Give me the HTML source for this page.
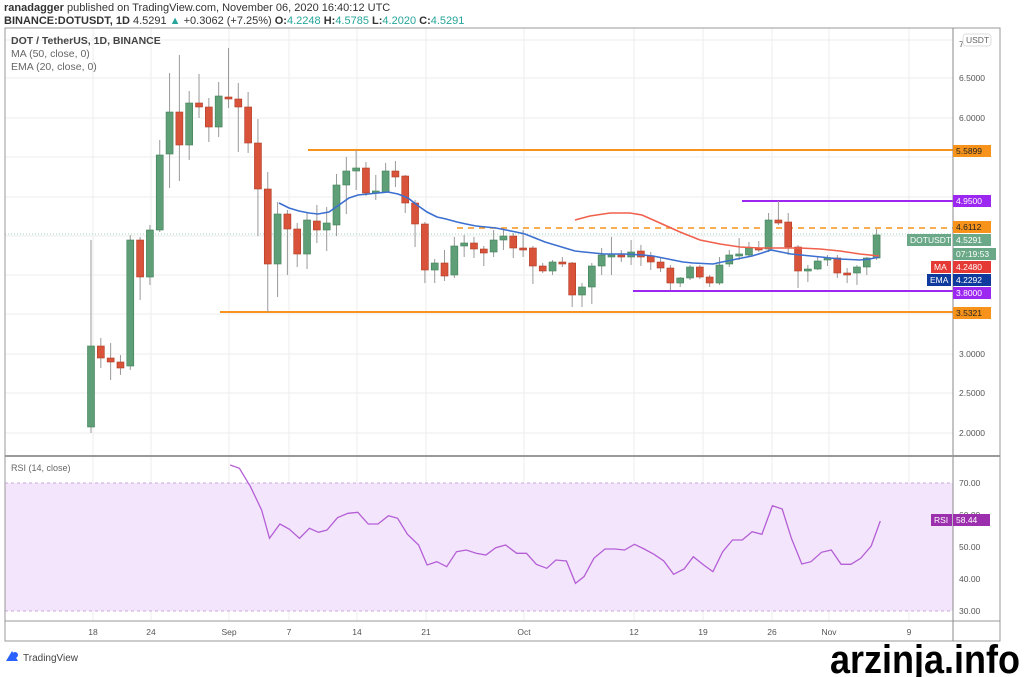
<!DOCTYPE html>
<html><head><meta charset="utf-8"><style>
html,body{margin:0;padding:0;background:#fff;width:1024px;height:677px;overflow:hidden}
svg{position:absolute;left:0;top:0}
text{font-family:"Liberation Sans",sans-serif}
</style></head><body>
<svg id="s" width="1024" height="677" viewBox="0 0 1024 677" xmlns="http://www.w3.org/2000/svg">
<rect x="0" y="0" width="1024" height="677" fill="#fff"/>
<text x="4" y="11" font-size="11" fill="#333"><tspan font-weight="bold">ranadagger</tspan> published on TradingView.com, November 06, 2020 16:40:12 UTC</text>
<text x="4" y="24" font-size="11" fill="#333"><tspan font-weight="bold">BINANCE:DOTUSDT, 1D</tspan> 4.5291 <tspan fill="#26a69a">▲</tspan> +0.3062 (+7.25%) <tspan font-weight="bold">O:</tspan><tspan fill="#26a69a">4.2248</tspan> <tspan font-weight="bold">H:</tspan><tspan fill="#26a69a">4.5785</tspan> <tspan font-weight="bold">L:</tspan><tspan fill="#26a69a">4.2020</tspan> <tspan font-weight="bold">C:</tspan><tspan fill="#26a69a">4.5291</tspan></text>
<g id="grid"></g>
<rect x="5" y="483" width="948" height="128" fill="#f3e5fb"/>
<line x1="5" y1="483" x2="953" y2="483" stroke="#c9a8d8" stroke-dasharray="3,3"/>
<line x1="5" y1="611" x2="953" y2="611" stroke="#c9a8d8" stroke-dasharray="3,3"/>
<g id="lines"></g>
<g id="candles"></g>
<g id="ind"></g>
<rect x="5" y="28" width="995" height="613" fill="none" stroke="#999" stroke-width="1"/>
<line x1="953" y1="28" x2="953" y2="641" stroke="#888"/>
<line x1="5" y1="456" x2="1000" y2="456" stroke="#999" stroke-width="2"/>
<line x1="5" y1="621" x2="1000" y2="621" stroke="#999"/>
<text x="11" y="44" font-size="10.5" fill="#444" font-weight="bold">DOT / TetherUS, 1D, BINANCE</text>
<text x="11" y="57" font-size="10.5" fill="#666">MA (50, close, 0)</text>
<text x="11" y="70" font-size="10.5" fill="#666">EMA (20, close, 0)</text>
<text x="11" y="471" font-size="9" fill="#666">RSI (14, close)</text>
<g id="axis" font-size="8.5" fill="#555"></g>
<g id="tags" font-size="8.5"></g>
<g transform="translate(6,651)"><path d="M0,10 L6,0 L12,10 Z" fill="#2962ff"/><circle cx="9" cy="4" r="3" fill="#2962ff"/></g>
<text x="23" y="661" font-size="10" fill="#444">TradingView</text>
<text transform="translate(1020,673) scale(0.9,1)" font-size="40" font-weight="bold" fill="#000" text-anchor="end" font-family="Liberation Sans Narrow, Liberation Sans, sans-serif">arzinja.info</text>
</svg>
<script>
var NS="http://www.w3.org/2000/svg";
function el(p,t,a,txt){var e=document.createElementNS(NS,t);for(var k in a)e.setAttribute(k,a[k]);if(txt!==undefined)e.textContent=txt;document.getElementById(p).appendChild(e);return e;}
[40,78,118,157,197,236,275,314,354,393,433].forEach(function(y){el("grid","line",{x1:5,y1:y,x2:953,y2:y,stroke:"#eee"});});
[515,547,579].forEach(function(y){el("grid","line",{x1:5,y1:y,x2:953,y2:y,stroke:"#e8e8e8"});});
var dx=[[93,"18"],[151,"24"],[229,"Sep"],[289,"7"],[357,"14"],[426,"21"],[524,"Oct"],[634,"12"],[703,"19"],[772,"26"],[829,"Nov"],[909,"9"]];
dx.forEach(function(d){el("grid","line",{x1:d[0],y1:28,x2:d[0],y2:621,stroke:"#eee"});el("axis","text",{x:d[0],y:635,"text-anchor":"middle"},d[1]);});
[[78,"6.5000"],[118,"6.0000"],[354,"3.0000"],[393,"2.5000"],[433,"2.0000"],[44,"7"]].forEach(function(a){el("axis","text",{x:959,y:a[0]+3},a[1]);});
[[483,"70.00"],[515,"60.00"],[547,"50.00"],[579,"40.00"],[611,"30.00"]].forEach(function(a){el("axis","text",{x:959,y:a[0]+3},a[1]);});
el("axis","rect",{x:963,y:34,width:28,height:12,rx:3,fill:"#fff",stroke:"#ddd"});
el("axis","text",{x:966,y:43,fill:"#666"},"USDT");
function hl(x1,x2,y,c,w,da){var a={x1:x1,y1:y,x2:x2,y2:y,stroke:c,"stroke-width":w};if(da)a["stroke-dasharray"]=da;el("lines","line",a);}
hl(5,953,234,"#9fd3b8",1,"1,2");
hl(308,953,150,"#f7931a",2);
hl(220,953,312,"#f7931a",2);
hl(742,953,201,"#9c27f0",2);
hl(633,953,291,"#9c27f0",2);
hl(457,953,228,"#f7931a",1.5,"6,5");
var C=[[427,346,240,433],[346,358,338,368],[358,362,343,380],[362,368,355,375],[366,240,235,370],[240,277,237,300],[277,230,225,285],[230,155,140,232],[154,112,73,188],[112,145,55,181],[145,103,91,160],[103,107,74,118],[107,127,98,142],[127,96,82,137],[97,99,48,108],[99,107,83,152],[107,143,92,153],[143,189,119,236],[189,264,172,312],[264,214,202,297],[214,229,210,275],[229,254,223,267],[254,220,213,269],[221,230,205,243],[230,223,207,251],[225,185,174,236],[185,171,157,214],[171,168,150,190],[168,193,162,196],[193,191,175,200],[192,171,163,193],[171,177,161,187],[176,203,175,213],[203,224,200,247],[224,270,222,283],[270,263,259,283],[263,276,250,281],[275,246,237,278],[246,243,235,257],[243,249,237,258],[249,253,246,266],[252,240,230,257],[240,236,230,250],[236,248,233,258],[248,249,230,257],[248,266,246,284],[266,271,263,273],[271,262,260,275],[262,264,257,267],[263,295,262,307],[295,287,283,307],[287,266,263,304],[266,255,248,275],[256,255,237,275],[255,257,250,262],[257,252,240,265],[251,257,245,266],[256,262,252,270],[262,268,258,272],[268,283,265,290],[283,278,277,287],[278,267,265,280],[267,277,265,279],[277,283,275,287],[283,265,257,285],[264,255,250,267],[255,254,238,260],[255,248,242,257],[248,249,241,252],[249,220,213,252],[220,223,201,225],[222,247,213,255],[247,271,245,288],[270,269,265,282],[269,261,257,270],[260,258,255,266],[258,273,255,278],[273,274,268,283],[273,267,265,285],[267,258,257,275],[258,235,229,260]];
C.forEach(function(c,i){var x=91+9.82*i;var up=c[1]<=c[0];var col=up?"#5f9f77":"#d9533a";var bc=up?"#3f7f57":"#b03a24";
el("candles","line",{x1:x,y1:c[2],x2:x,y2:c[3],stroke:"#999","stroke-width":1});
var t=Math.min(c[0],c[1]),h=Math.max(2,Math.abs(c[0]-c[1]));
el("candles","rect",{x:x-3.5,y:t,width:7,height:h,fill:col,stroke:bc,"stroke-width":0.6});});
var E=[[279,203],[289,208],[299,211],[309,213],[318,214],[329,212],[339,205],[349,198],[358,195],[368,194],[378,193],[388,192],[398,194],[408,198],[417,205],[427,212],[437,217],[446,219],[457,222],[466,224],[476,226],[486,227],[496,228],[506,230],[516,232],[525,234],[535,238],[545,242],[555,245],[565,248],[575,251],[584,252],[594,253],[604,254],[624,254],[643,255],[653,256],[663,258],[673,260],[683,262],[693,263],[713,264],[722,262],[732,260],[742,258],[752,256],[762,253],[771,250],[781,252],[791,254],[801,255],[821,257],[840,259],[860,260],[870,259],[879,257]];
el("ind","polyline",{points:E.map(function(p){return p.join(",")}).join(" "),fill:"none",stroke:"#3b6fd0","stroke-width":1.6});
var M=[[575,220],[590,216],[610,213],[630,213],[642,215],[660,223],[680,232],[700,240],[720,244],[740,247],[760,248],[800,248],[820,249],[840,251],[860,254],[879,256]];
el("ind","polyline",{points:M.map(function(p){return p.join(",")}).join(" "),fill:"none",stroke:"#f0604c","stroke-width":1.6});
var R=[[352,30],[366,40],[383,95],[400,165],[412,250],[428,207],[442,222],[458,250],[473,220],[487,232],[500,225],[516,188],[532,175],[547,172],[563,207],[578,207],[594,182],[608,190],[623,238],[640,270],[653,330],[668,320],[683,335],[698,290],[713,285],[728,295],[743,300],[758,278],[773,270],[790,295],[805,295],[820,328],[836,340],[850,315],[866,318],[880,385],[893,365],[908,310],[925,282],[940,282],[955,285],[970,268],[985,282],[1000,298],[1015,318],[1030,358],[1046,342],[1060,305],[1076,330],[1090,350],[1105,290],[1120,255],[1135,255],[1150,230],[1165,238],[1181,152],[1196,162],[1210,250],[1226,327],[1240,320],[1256,292],[1271,285],[1286,328],[1301,328],[1316,310],[1332,273],[1346,198]];
el("ind","polyline",{points:R.map(function(p){return (p[0]/1.529).toFixed(1)+","+(455+p[1]/3).toFixed(1)}).join(" "),fill:"none",stroke:"#b45fd6","stroke-width":1.3});
function tag(x,y,w,bg,fg,txt){el("tags","rect",{x:x,y:y-6,width:w,height:12,fill:bg});el("tags","text",{x:x+3,y:y+3,fill:fg},txt);}
tag(953,151,38,"#f7931a","#222","5.5899");
tag(953,201,38,"#9c27f0","#fff","4.9500");
tag(953,227,38,"#f7931a","#222","4.6112");
tag(907,240,44,"#6aa887","#fff","DOTUSDT");
tag(953,240,38,"#6aa887","#fff","4.5291");
tag(953,254,43,"#6aa887","#fff","07:19:53");
tag(931,267,20,"#e53935","#fff","MA");
tag(953,267,38,"#e53935","#fff","4.2480");
tag(927,280,24,"#0d3a9c","#fff","EMA");
tag(953,280,38,"#0d3a9c","#fff","4.2292");
tag(953,293,38,"#9c27f0","#fff","3.8000");
tag(953,313,38,"#f7931a","#222","3.5321");
tag(931,520,21,"#9c2fae","#fff","RSI");
tag(953,520,37,"#9c2fae","#fff","58.44");
</script>
</body></html>
